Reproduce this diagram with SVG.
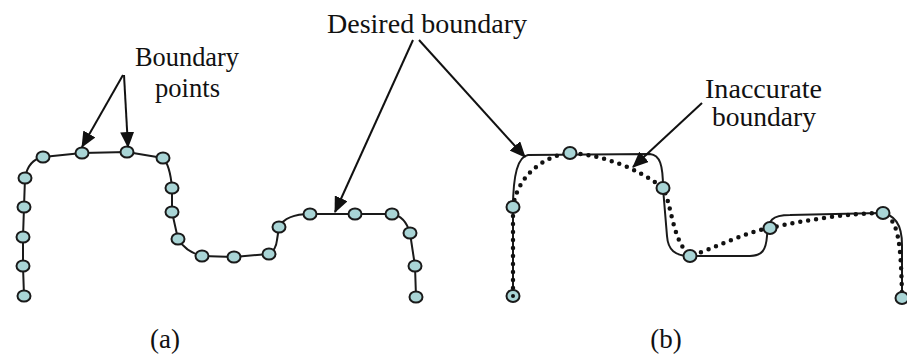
<svg xmlns="http://www.w3.org/2000/svg" width="907" height="356" viewBox="0 0 907 356">
<style>
text{font-family:"Liberation Serif","Times New Roman",serif;fill:#111;font-size:27px}
.pt{fill:#a9d5d6;stroke:#1a1a1a;stroke-width:2}
.ln{fill:none;stroke:#1a1a1a;stroke-width:2;stroke-linejoin:round}
.dot{fill:none;stroke:#111;stroke-width:4.5;stroke-linecap:round;stroke-dasharray:0 8}
.arr{fill:none;stroke:#111;stroke-width:2}
</style>
<defs>
<marker id="ah" markerWidth="16" markerHeight="14" refX="15" refY="7" orient="auto" markerUnits="userSpaceOnUse">
<path d="M0,0 L16,7 L0,14 Z" fill="#111"/>
</marker>
</defs>
<rect width="907" height="356" fill="#fff"/>

<g id="panel-a">
<path class="ln" d="M24,296 L23,266 L23,237 L24,207 L25,178 Q28,160 43,157 L82,153 L127,152 L163,158 Q170,165 172,188 L172,212 L178,239 Q186,252 202,256 L234,257 L269,254 Q276,250 277,240 L279,227 Q286,214 310,214 L355,214 L392,214 Q405,216 410,233 L415,266 L416,297"/>
<g id="pts-a">
<ellipse class="pt" cx="24" cy="296" rx="6.5" ry="5.5"/>
<ellipse class="pt" cx="23" cy="266" rx="6.5" ry="5.5"/>
<ellipse class="pt" cx="23" cy="237" rx="6.5" ry="5.5"/>
<ellipse class="pt" cx="24" cy="207" rx="6.5" ry="5.5"/>
<ellipse class="pt" cx="25" cy="178" rx="6.5" ry="5.5"/>
<ellipse class="pt" cx="43" cy="157" rx="6.5" ry="5.5"/>
<ellipse class="pt" cx="82" cy="153" rx="6.5" ry="5.5"/>
<ellipse class="pt" cx="127" cy="152" rx="6.5" ry="5.5"/>
<ellipse class="pt" cx="163" cy="158" rx="6.5" ry="5.5"/>
<ellipse class="pt" cx="172" cy="188" rx="6.5" ry="5.5"/>
<ellipse class="pt" cx="172" cy="212" rx="6.5" ry="5.5"/>
<ellipse class="pt" cx="178" cy="239" rx="6.5" ry="5.5"/>
<ellipse class="pt" cx="202" cy="256" rx="6.5" ry="5.5"/>
<ellipse class="pt" cx="234" cy="257" rx="6.5" ry="5.5"/>
<ellipse class="pt" cx="269" cy="254" rx="6.5" ry="5.5"/>
<ellipse class="pt" cx="279" cy="227" rx="6.5" ry="5.5"/>
<ellipse class="pt" cx="310" cy="214" rx="6.5" ry="5.5"/>
<ellipse class="pt" cx="355" cy="214" rx="6.5" ry="5.5"/>
<ellipse class="pt" cx="392" cy="214" rx="6.5" ry="5.5"/>
<ellipse class="pt" cx="410" cy="233" rx="6.5" ry="5.5"/>
<ellipse class="pt" cx="415" cy="266" rx="6.5" ry="5.5"/>
<ellipse class="pt" cx="416" cy="297" rx="6.5" ry="5.5"/>
</g>
<text x="165" y="348" text-anchor="middle" font-size="30">(a)</text>
</g>

<g id="panel-b">
<path id="desired" class="ln" d="M513,296 L513,208 C513,180 516,157 528,155 L650,154 C660,155 663,165 663,188 L667,236 C668,250 675,256 690,256 L750,256 C762,256 766,250 767,236 C768,220 772,215 790,215 L880,213 C896,214 902,226 902,245 L902,298"/>
<path id="inaccurate" class="dot" d="M513,296 L513,208 C516,180 540,156 570,153 C605,155 640,170 663,188 C672,205 672,240 690,256 C715,248 745,232 770,228 C805,220 850,213 883,213 C898,220 901,240 902,298"/>
<g id="pts-b">
<ellipse class="pt" cx="513" cy="296" rx="6.5" ry="6"/>
<circle cx="513" cy="296" r="2" fill="#111"/>
<ellipse class="pt" cx="513" cy="207" rx="6.5" ry="6"/>
<ellipse class="pt" cx="570" cy="153" rx="6.5" ry="6"/>
<ellipse class="pt" cx="663" cy="188" rx="6.5" ry="6"/>
<ellipse class="pt" cx="690" cy="256" rx="6.5" ry="6"/>
<ellipse class="pt" cx="770" cy="228" rx="6.5" ry="6"/>
<ellipse class="pt" cx="883" cy="213" rx="6.5" ry="6"/>
<ellipse class="pt" cx="902" cy="298" rx="6.5" ry="6"/>
</g>
<text x="666" y="348" text-anchor="middle" font-size="30">(b)</text>
</g>

<g id="labels">
<text x="135" y="66" textLength="104" lengthAdjust="spacingAndGlyphs">Boundary</text>
<text x="155" y="97" textLength="65" lengthAdjust="spacingAndGlyphs">points</text>
<text x="327" y="33" textLength="200" lengthAdjust="spacingAndGlyphs">Desired boundary</text>
<text x="705" y="98" textLength="117" lengthAdjust="spacingAndGlyphs">Inaccurate</text>
<text x="712" y="126" textLength="104" lengthAdjust="spacingAndGlyphs">boundary</text>
</g>

<g id="connectors">
<line class="arr" x1="123" y1="75" x2="82" y2="147" marker-end="url(#ah)"/>
<line class="arr" x1="124" y1="75" x2="128" y2="147" marker-end="url(#ah)"/>
<line class="arr" x1="413" y1="40" x2="335" y2="212" marker-end="url(#ah)"/>
<line class="arr" x1="419" y1="40" x2="525" y2="157" marker-end="url(#ah)"/>
<line class="arr" x1="702" y1="103" x2="633" y2="167" marker-end="url(#ah)"/>
</g>
</svg>
